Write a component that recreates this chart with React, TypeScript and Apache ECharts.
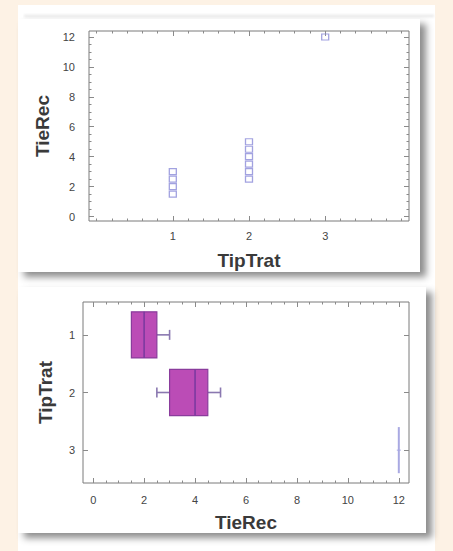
import React, { useEffect, useRef } from "react";
import * as echarts from "echarts";

// ---- data ----
const scatterTipTrat = [1, 1, 1, 1, 2, 2, 2, 2, 2, 2, 3];
const scatterTieRec = [1.5, 2, 2.5, 3, 2.5, 3, 3.5, 4, 4.5, 5, 12];

const boxTipTrat = [1, 2, 3];
const boxMin = [1.5, 2.5, 12];
const boxQ1 = [1.5, 3, 12];
const boxMedian = [2, 4, 12];
const boxQ3 = [2.5, 4.5, 12];
const boxMax = [3, 5, 12];

const topXTicks = [1, 2, 3];
const topYTicks = [0, 2, 4, 6, 8, 10, 12];
const bottomXTicks = [0, 2, 4, 6, 8, 10, 12];
const bottomYTicks = [1, 2, 3];

const topXRange = [-0.1, 4.1];
const topYRange = [-0.3, 12.4];
const bottomXRange = [-0.4, 12.4];
const bottomYRange = [0.43, 3.57];

// ---- style ----
const FONT = "'Liberation Sans', Arial, sans-serif";
const TICK_COLOR = "#8a8a8a";
const LABEL_COLOR = "#444";
const TITLE_COLOR = "#3a3a3a";
const BOX_HALF = 0.4;

function minorValues(range: number[], step: number): number[] {
  const out: number[] = [];
  const start = Math.ceil(range[0] / step - 1e-9);
  const end = Math.floor(range[1] / step + 1e-9);
  for (let i = start; i <= end; i++) out.push(+(i * step).toFixed(4));
  return out;
}

function axisGroup(
  kind: "x" | "y",
  gridIndex: number,
  range: number[],
  majors: number[],
  minors: number[] | null,
  name: string,
  labelMargin: number,
  nameGap: number,
  inverse: boolean
) {
  const pos = kind === "x" ? "bottom" : "left";
  const mirrorPos = kind === "x" ? "top" : "right";
  const base = {
    type: "value",
    gridIndex,
    min: range[0],
    max: range[1],
    inverse,
    splitLine: { show: false },
    axisLine: { show: false, onZero: false },
  };
  const ticks = (vals: number[], len: number) => ({
    show: true,
    inside: true,
    length: len,
    customValues: vals,
    lineStyle: { color: TICK_COLOR, width: 1 },
  });
  const axes: any[] = [
    {
      ...base,
      position: pos,
      axisTick: ticks(majors, 5),
      axisLabel: {
        show: true,
        customValues: majors,
        margin: labelMargin,
        fontSize: 11,
        color: LABEL_COLOR,
        fontFamily: FONT,
      },
      name,
      nameLocation: "middle",
      nameGap,
      nameTextStyle: { fontSize: 19, fontWeight: "bold", color: TITLE_COLOR, fontFamily: FONT },
    },
  ];
  if (minors) axes.push({ ...base, position: pos, axisTick: ticks(minors, 2.5), axisLabel: { show: false } });
  axes.push({ ...base, position: mirrorPos, axisTick: ticks(majors, 5), axisLabel: { show: false } });
  if (minors) axes.push({ ...base, position: mirrorPos, axisTick: ticks(minors, 2.5), axisLabel: { show: false } });
  return axes;
}

export default function App() {
  const ref = useRef<HTMLDivElement>(null);

  useEffect(() => {
    document.body.style.margin = "0";
    const chart = echarts.init(ref.current!, undefined, { renderer: "svg" });

    const topX = axisGroup("x", 0, topXRange, topXTicks, minorValues(topXRange, 0.2), "TipTrat", 9, 30, false);
    const bottomX = axisGroup("x", 1, bottomXRange, bottomXTicks, minorValues(bottomXRange, 0.5), "TieRec", 11, 30, false);
    const topY = axisGroup("y", 0, topYRange, topYTicks, minorValues(topYRange, 0.5), "TieRec", 14, 32, false);
    const bottomY = axisGroup("y", 1, bottomYRange, bottomYTicks, null, "TipTrat", 8, 28, true);

    const xAxis = [...topX, ...bottomX];
    const yAxis = [...topY, ...bottomY];
    const bottomXIndex = topX.length;
    const bottomYIndex = topY.length;

    const option: any = {
      animation: false,
      backgroundColor: "transparent",
      textStyle: { fontFamily: FONT },
      grid: [
        { left: 89, top: 31, width: 320, height: 190, show: true, borderColor: "#7a7a7a", borderWidth: 1, backgroundColor: "transparent" },
        { left: 83, top: 302, width: 326, height: 181, show: true, borderColor: "#7a7a7a", borderWidth: 1, backgroundColor: "transparent" },
      ],
      xAxis,
      yAxis,
      series: [
        {
          type: "scatter",
          xAxisIndex: 0,
          yAxisIndex: 0,
          symbol: "rect",
          symbolSize: [7, 6],
          itemStyle: { color: "rgba(255,255,255,0)", borderColor: "#8b8bd8", borderWidth: 1.2 },
          data: scatterTipTrat.map((x, i) => [x, scatterTieRec[i]]),
        },
        {
          type: "custom",
          xAxisIndex: bottomXIndex,
          yAxisIndex: bottomYIndex,
          encode: { x: [1, 2, 3, 4, 5], y: 0 },
          data: boxTipTrat.map((c, i) => [c, boxMin[i], boxQ1[i], boxMedian[i], boxQ3[i], boxMax[i]]),
          renderItem: (params: any, api: any) => {
            const cat = api.value(0);
            const mn = api.value(1);
            const q1 = api.value(2);
            const md = api.value(3);
            const q3 = api.value(4);
            const mx = api.value(5);
            const yc = api.coord([md, cat])[1];
            const halfH = Math.abs(api.size([0, BOX_HALF * 2])[1]) / 2;
            const px = (v: number) => api.coord([v, cat])[0];
            const capH = 5;
            const whisker = { stroke: "#8a78b0", lineWidth: 1.6 };
            const children: any[] = [];
            if (q3 > q1) {
              if (mn < q1) {
                children.push({ type: "line", shape: { x1: px(mn), y1: yc, x2: px(q1), y2: yc }, style: whisker });
                children.push({ type: "line", shape: { x1: px(mn), y1: yc - capH, x2: px(mn), y2: yc + capH }, style: whisker });
              }
              if (mx > q3) {
                children.push({ type: "line", shape: { x1: px(q3), y1: yc, x2: px(mx), y2: yc }, style: whisker });
                children.push({ type: "line", shape: { x1: px(mx), y1: yc - capH, x2: px(mx), y2: yc + capH }, style: whisker });
              }
              children.push({
                type: "rect",
                shape: { x: px(q1), y: yc - halfH, width: px(q3) - px(q1), height: halfH * 2 },
                style: { fill: "#bb4cb6", stroke: "#8a3c9c", lineWidth: 1.2 },
              });
              children.push({
                type: "line",
                shape: { x1: px(md), y1: yc - halfH, x2: px(md), y2: yc + halfH },
                style: { stroke: "#7c3aa0", lineWidth: 1.6 },
              });
            } else {
              children.push({
                type: "line",
                shape: { x1: px(md), y1: yc - halfH, x2: px(md), y2: yc + halfH },
                style: { stroke: "#a9a9e2", lineWidth: 2 },
              });
              children.push({
                type: "line",
                shape: { x1: px(md) - 2, y1: yc, x2: px(md) + 2, y2: yc },
                style: { stroke: "#a9a9e2", lineWidth: 1 },
              });
            }
            return { type: "group", children };
          },
        },
      ],
    };

    chart.setOption(option);
    return () => chart.dispose();
  }, []);

  return (
    <div style={{ position: "fixed", left: 0, top: 0, width: 453, height: 551, background: "#fdf2e5", overflow: "hidden" }}>
      <div style={{ position: "absolute", left: 18, top: 5, width: 417, height: 546, background: "#ffffff" }} />
      <div
        style={{
          position: "absolute",
          left: 24,
          top: 14,
          width: 410,
          height: 4,
          background: "linear-gradient(#ffffff, #e4e4e4, #ffffff)",
          filter: "blur(1px)",
        }}
      />
      <div
        style={{
          position: "absolute",
          left: 18,
          top: 19,
          width: 402,
          height: 253,
          background: "#ffffff",
          boxShadow: "6px 5px 7px rgba(0,0,0,0.45)",
        }}
      />
      <div
        style={{
          position: "absolute",
          left: 18,
          top: 287,
          width: 408,
          height: 246,
          background: "#ffffff",
          boxShadow: "6px 5px 7px rgba(0,0,0,0.45)",
        }}
      />
      <div ref={ref} style={{ position: "absolute", left: 0, top: 0, width: 453, height: 551 }} />
    </div>
  );
}
